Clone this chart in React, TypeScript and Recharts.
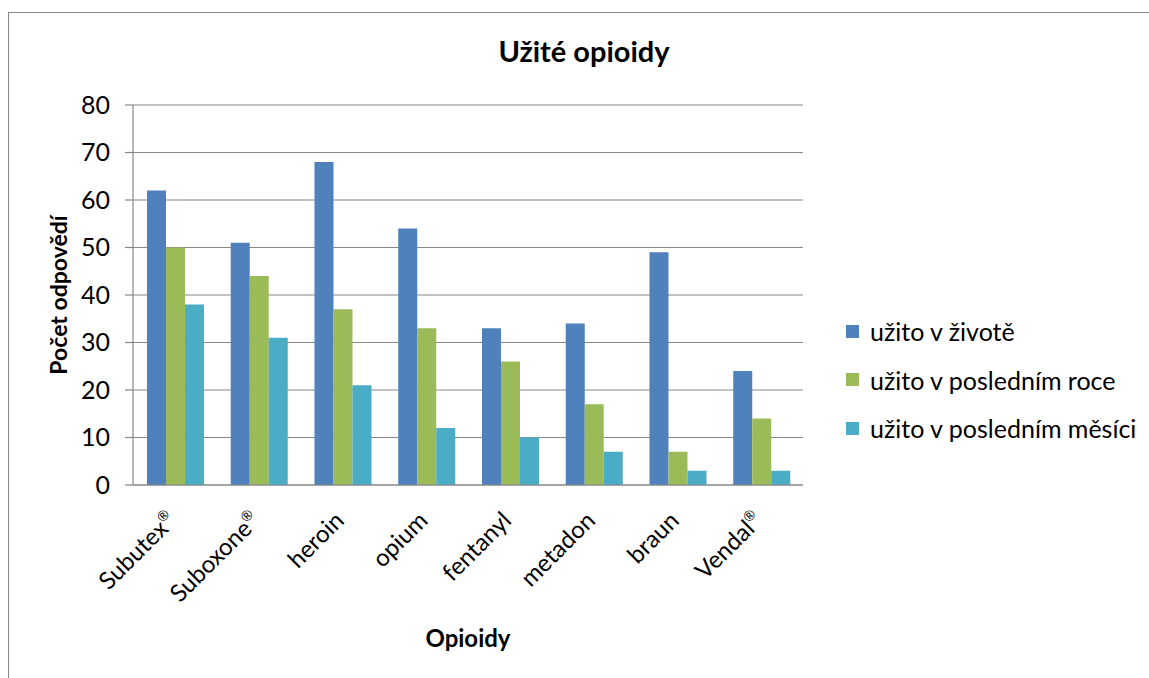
import { BarChart, Bar, XAxis, YAxis, CartesianGrid, Legend } from 'recharts'

const categories = ['Subutex®', 'Suboxone®', 'heroin', 'opium', 'fentanyl', 'metadon', 'braun', 'Vendal®']
const lifetime = [62, 51, 68, 54, 33, 34, 49, 24]
const lastYear = [50, 44, 37, 33, 26, 17, 7, 14]
const lastMonth = [38, 31, 21, 12, 10, 7, 3, 3]
const yTicks = [0, 10, 20, 30, 40, 50, 60, 70, 80]

const series = [
  { key: 'life', name: 'užito v životě', color: '#4F81BD', values: lifetime },
  { key: 'year', name: 'užito v posledním roce', color: '#9BBB59', values: lastYear },
  { key: 'month', name: 'užito v posledním měsíci', color: '#4BACC6', values: lastMonth },
]

const data = categories.map((name, i) => {
  const row: Record<string, string | number> = { name }
  series.forEach((s) => {
    row[s.key] = s.values[i]
  })
  return row
})

const font = 'Lato, "Liberation Sans", sans-serif'
const gray = '#878787'

// ® is drawn as a small superscript, as in the original
function CategoryTick({ x, y, payload }: any) {
  const label = String(payload.value)
  const reg = label.endsWith('®')
  const base = reg ? label.slice(0, -1) : label
  return (
    <g transform={`translate(${x + 3},${y + 29})`}>
      <text transform="rotate(-45)" textAnchor="end" fill="#000" fontSize={24} fontFamily={font}>
        {base}
        {reg && (
          <tspan fontSize={14} dy={-10}>
            ®
          </tspan>
        )}
      </text>
    </g>
  )
}

function LegendBox() {
  return (
    <div style={{ fontFamily: font, fontSize: 25, color: '#000' }}>
      {series.map((s) => (
        <div key={s.key} style={{ display: 'flex', alignItems: 'center', height: 48.5 }}>
          <span style={{ width: 13, height: 13, background: s.color, marginRight: 11 }} />
          <span>{s.name}</span>
        </div>
      ))}
    </div>
  )
}

function YTitle({ viewBox }: any) {
  const cx = viewBox.x + 67
  const cy = 295
  return (
    <text x={cx} y={cy} transform={`rotate(-90 ${cx} ${cy})`} textAnchor="middle" fontFamily={font} fontWeight="bold" fontSize={23} fill="#000">
      Počet odpovědí
    </text>
  )
}

export default function App() {
  return (
    <div style={{ position: 'absolute', left: 0, top: 0, width: 1149, height: 678, background: '#fff' }}>
      <div style={{ position: 'absolute', left: 8, top: 12, right: 0, bottom: 0, borderTop: `1px solid ${gray}`, borderLeft: `1px solid ${gray}` }} />
      <div style={{ position: 'absolute', left: 384, width: 400, top: 35, textAlign: 'center', fontFamily: font, fontWeight: 'bold', fontSize: 29, lineHeight: '32px', color: '#000' }}>
        Užité opioidy
      </div>
      <BarChart
        width={1149}
        height={678}
        data={data}
        margin={{ top: 105, right: 346, bottom: 0, left: 0 }}
        barCategoryGap="16.7%"
        barGap={0}
        style={{ position: 'absolute', left: 0, top: 0 }}
      >
        <CartesianGrid vertical={false} stroke={gray} strokeWidth={1.2} />
        <XAxis
          dataKey="name"
          height={193}
          interval={0}
          tickLine={false}
          axisLine={{ stroke: gray, strokeWidth: 1.2 }}
          tick={<CategoryTick />}
          label={{ value: 'Opioidy', position: 'insideBottom', offset: 31, fill: '#000', fontFamily: font, fontWeight: 'bold', fontSize: 24 }}
        />
        <YAxis
          width={133}
          domain={[0, 80]}
          ticks={yTicks}
          interval={0}
          tickSize={8}
          tickMargin={15}
          tickLine={{ stroke: gray, strokeWidth: 1.2 }}
          axisLine={{ stroke: gray, strokeWidth: 1.2 }}
          tick={{ fill: '#000', fontSize: 25, fontFamily: font }}
          label={<YTitle />}
        />
        <Legend
          layout="vertical"
          align="center"
          verticalAlign="middle"
          wrapperStyle={{ left: 846, top: 307, width: 300 }}
          content={<LegendBox />}
        />
        {series.map((s) => (
          <Bar key={s.key} dataKey={s.key} name={s.name} fill={s.color} isAnimationActive={false} />
        ))}
      </BarChart>
    </div>
  )
}
